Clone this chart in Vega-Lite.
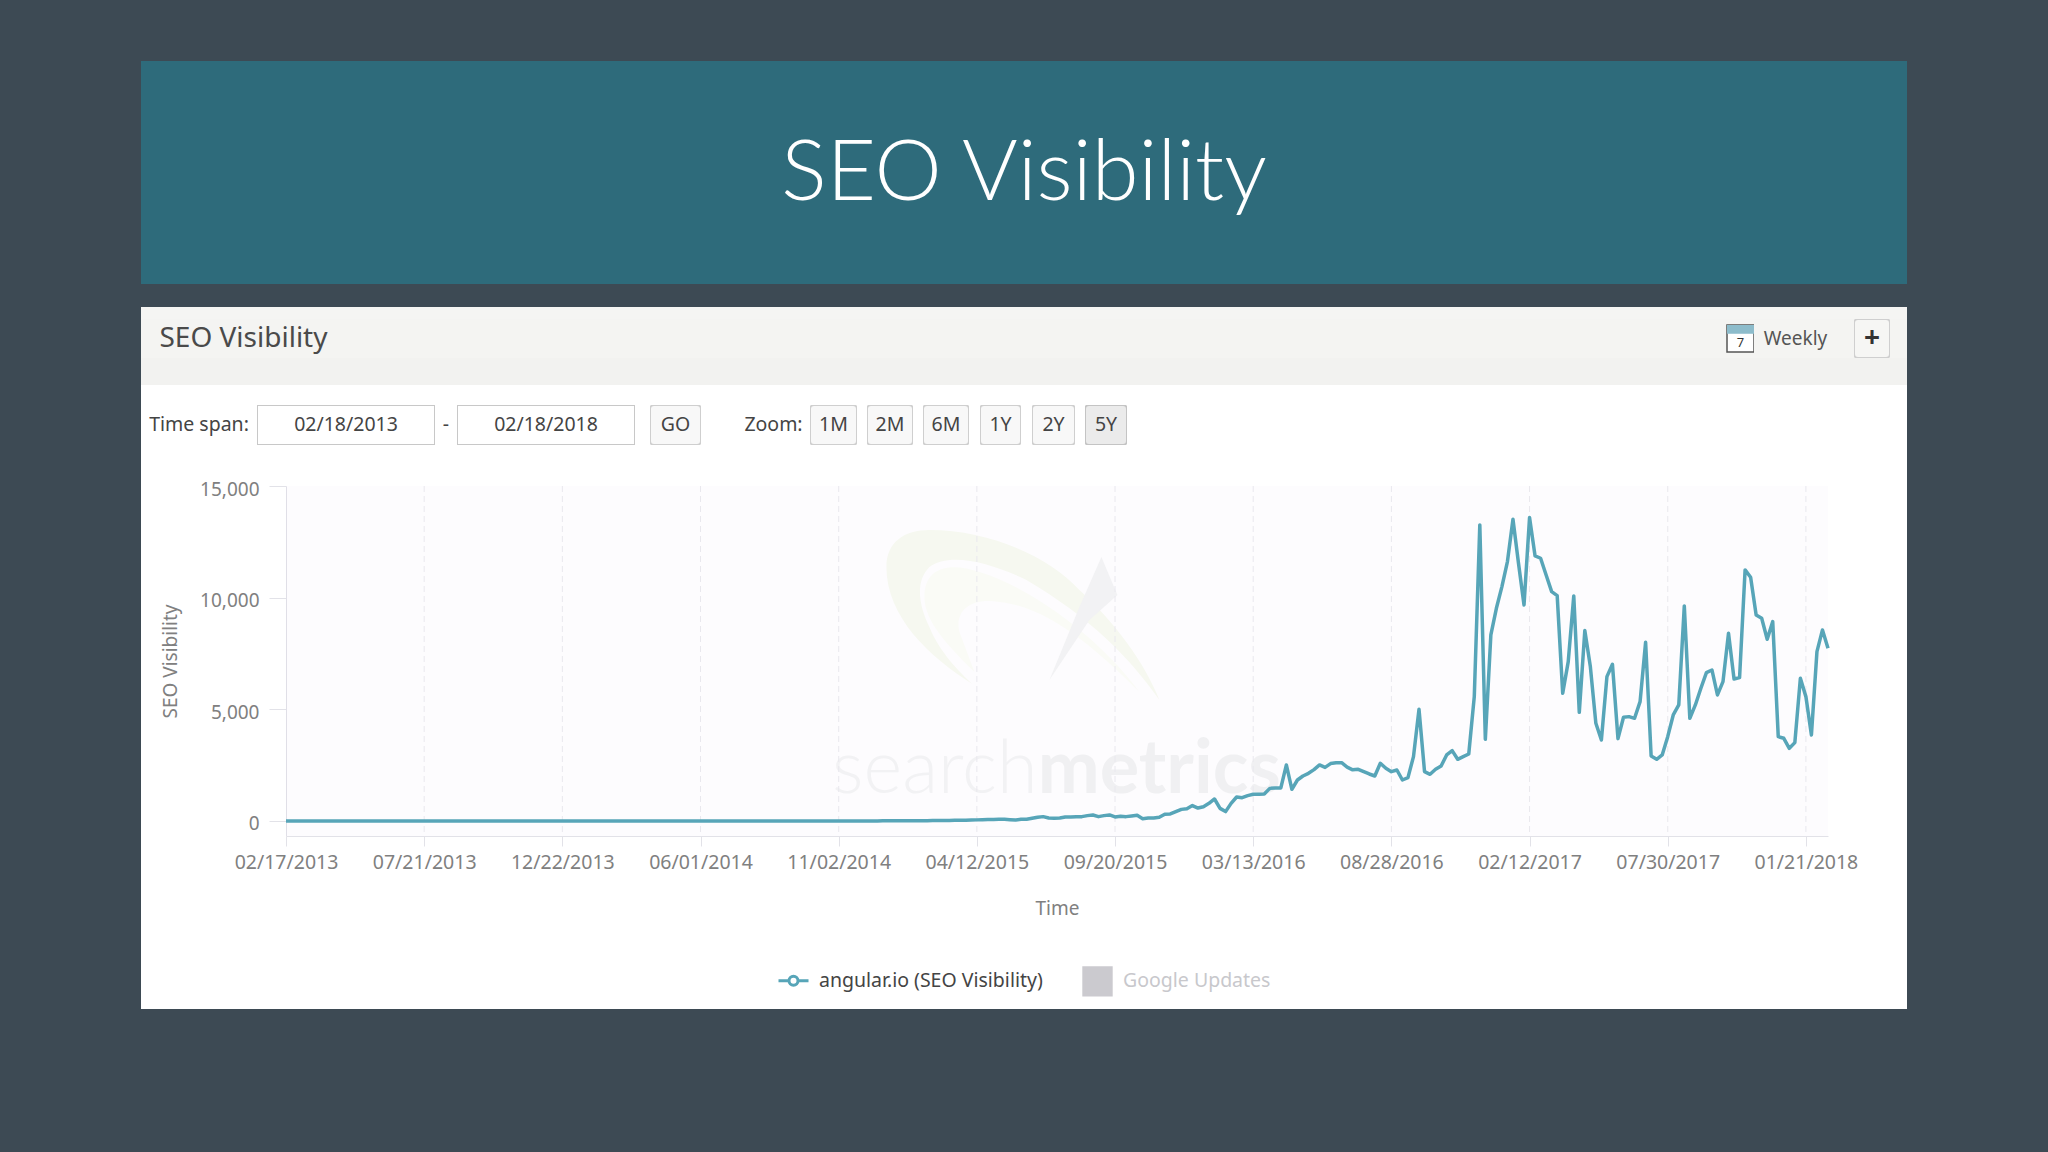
{
  "$schema": "https://vega.github.io/schema/vega-lite/v6.json",
  "description": "Slide with a Searchmetrics SEO Visibility panel for angular.io.",
  "background": "#3d4a54",
  "padding": {"left": 141, "top": 61, "right": 141, "bottom": 143},
  "data": {"values": [{}]},
  "spacing": 0,
  "vconcat": [
    {"width": 1766, "height": 223, "view": {"fill": "#2e6b7b"}, "mark": {"type": "text", "text": "SEO Visibility", "font": "Lato", "fontWeight": 300, "fontSize": 85, "color": "#ffffff", "dy": 1}},
    {"width": 1766, "height": 23, "mark": {"type": "rect", "fill": "#3d4a54"}},
    {"width": 1766, "height": 12, "mark": {"type": "rect", "fill": "#f5f5f3"}},
    {
      "spacing": 0,
      "bounds": "flush",
      "hconcat": [
        {"width": 17, "height": 39, "mark": {"type": "rect", "fill": "#f4f4f2"}},
        {"width": 171, "height": 39, "view": {"fill": "#f4f4f2"}, "mark": {"type": "text", "text": "SEO Visibility", "fontSize": 28, "color": "#4a4a4a"}},
        {"width": 1398, "height": 39, "mark": {"type": "rect", "fill": "#f4f4f2"}},
        {
          "width": 27,
          "height": 39,
          "view": {"fill": "#f4f4f2"},
          "layer": [
            {"mark": {"type": "point", "shape": "square", "size": 729, "filled": true, "opacity": 1, "fill": "#ffffff", "stroke": "#555555", "strokeWidth": 1.5}},
            {"mark": {"type": "point", "shape": "M-1,-1 H1 V-.35 H-1 Z", "size": 729, "filled": true, "opacity": 1, "fill": "#8dbccb"}},
            {"mark": {"type": "text", "text": "7", "fontSize": 13, "color": "#333333", "dy": 4}}
          ]
        },
        {"width": 9, "height": 39, "mark": {"type": "rect", "fill": "#f4f4f2"}},
        {"width": 65, "height": 39, "view": {"fill": "#f4f4f2"}, "mark": {"type": "text", "text": "Weekly", "fontSize": 19, "color": "#555555"}},
        {"width": 26, "height": 39, "mark": {"type": "rect", "fill": "#f4f4f2"}},
        {
          "width": 36,
          "height": 39,
          "view": {"fill": "#f4f4f2"},
          "layer": [
            {"mark": {"type": "rect", "clip": true, "fill": "#f6f6f4", "stroke": "#cfcfcf", "strokeWidth": 2, "cornerRadius": 4}},
            {"mark": {"type": "text", "text": "+", "fontSize": 28, "fontWeight": "bold", "color": "#333333"}}
          ]
        },
        {"width": 17, "height": 39, "mark": {"type": "rect", "fill": "#f4f4f2"}}
      ]
    },
    {"width": 1766, "height": 27, "mark": {"type": "rect", "fill": "#f2f2f0"}},
    {"width": 1766, "height": 20, "mark": {"type": "rect", "fill": "#ffffff"}},
    {
      "spacing": 0,
      "bounds": "flush",
      "hconcat": [
        {"width": 116, "height": 40, "view": {"fill": "#ffffff"}, "mark": {"type": "text", "text": "Time span:"}},
        {"width": 178, "height": 40, "view": {"fill": "#ffffff"}, "layer": [{"mark": {"type": "rect", "clip": true, "fill": "#ffffff", "stroke": "#c8c8c8", "strokeWidth": 2}}, {"mark": {"type": "text", "text": "02/18/2013"}}]},
        {"width": 22, "height": 40, "view": {"fill": "#ffffff"}, "mark": {"type": "text", "text": "-"}},
        {"width": 178, "height": 40, "view": {"fill": "#ffffff"}, "layer": [{"mark": {"type": "rect", "clip": true, "fill": "#ffffff", "stroke": "#c8c8c8", "strokeWidth": 2}}, {"mark": {"type": "text", "text": "02/18/2018"}}]},
        {"width": 15, "height": 40, "mark": {"type": "rect", "fill": "#ffffff"}},
        {"width": 51, "height": 40, "view": {"fill": "#ffffff"}, "layer": [{"mark": {"type": "rect", "clip": true, "fill": "#f8f8f8", "stroke": "#cfcfcf", "strokeWidth": 2, "cornerRadius": 4}}, {"mark": {"type": "text", "text": "GO"}}]},
        {"width": 39, "height": 40, "mark": {"type": "rect", "fill": "#ffffff"}},
        {"width": 67, "height": 40, "view": {"fill": "#ffffff"}, "mark": {"type": "text", "text": "Zoom:"}},
        {"width": 3, "height": 40, "mark": {"type": "rect", "fill": "#ffffff"}},
        {"width": 47, "height": 40, "view": {"fill": "#ffffff"}, "layer": [{"mark": {"type": "rect", "clip": true, "fill": "#f8f8f8", "stroke": "#cfcfcf", "strokeWidth": 2, "cornerRadius": 4}}, {"mark": {"type": "text", "text": "1M"}}]},
        {"width": 10, "height": 40, "mark": {"type": "rect", "fill": "#ffffff"}},
        {"width": 46, "height": 40, "view": {"fill": "#ffffff"}, "layer": [{"mark": {"type": "rect", "clip": true, "fill": "#f8f8f8", "stroke": "#cfcfcf", "strokeWidth": 2, "cornerRadius": 4}}, {"mark": {"type": "text", "text": "2M"}}]},
        {"width": 10, "height": 40, "mark": {"type": "rect", "fill": "#ffffff"}},
        {"width": 46, "height": 40, "view": {"fill": "#ffffff"}, "layer": [{"mark": {"type": "rect", "clip": true, "fill": "#f8f8f8", "stroke": "#cfcfcf", "strokeWidth": 2, "cornerRadius": 4}}, {"mark": {"type": "text", "text": "6M"}}]},
        {"width": 11, "height": 40, "mark": {"type": "rect", "fill": "#ffffff"}},
        {"width": 41, "height": 40, "view": {"fill": "#ffffff"}, "layer": [{"mark": {"type": "rect", "clip": true, "fill": "#f8f8f8", "stroke": "#cfcfcf", "strokeWidth": 2, "cornerRadius": 4}}, {"mark": {"type": "text", "text": "1Y"}}]},
        {"width": 11, "height": 40, "mark": {"type": "rect", "fill": "#ffffff"}},
        {"width": 43, "height": 40, "view": {"fill": "#ffffff"}, "layer": [{"mark": {"type": "rect", "clip": true, "fill": "#f8f8f8", "stroke": "#cfcfcf", "strokeWidth": 2, "cornerRadius": 4}}, {"mark": {"type": "text", "text": "2Y"}}]},
        {"width": 10, "height": 40, "mark": {"type": "rect", "fill": "#ffffff"}},
        {"width": 42, "height": 40, "view": {"fill": "#ffffff"}, "layer": [{"mark": {"type": "rect", "clip": true, "fill": "#ebebeb", "stroke": "#c4c4c4", "strokeWidth": 2, "cornerRadius": 4}}, {"mark": {"type": "text", "text": "5Y"}}]},
        {"width": 780, "height": 40, "mark": {"type": "rect", "fill": "#ffffff"}}
      ]
    },
    {
      "width": 1766,
      "height": 564,
      "view": {"fill": "#ffffff"},
      "layer": [
        {
          "mark": {"type": "rect", "fill": "#6a50b0", "opacity": 0.015},
          "encoding": {
            "x": {
              "datum": 0,
              "type": "quantitative",
              "scale": {"domain": [0, 279], "range": [145, 1687], "nice": false, "zero": false},
              "axis": {
                "title": "Time",
                "orient": "bottom",
                "offset": -173,
                "values": [0, 25, 50, 75, 100, 125, 150, 175, 200, 225, 250, 275],
                "labelExpr": "['02/17/2013','07/21/2013','12/22/2013','06/01/2014','11/02/2014','04/12/2015','09/20/2015','03/13/2016','08/28/2016','02/12/2017','07/30/2017','01/21/2018'][datum.value / 25]",
                "labelOverlap": false,
                "labelFlush": false,
                "grid": false,
                "domainColor": "#e2e2e8",
                "tickColor": "#e2e2e8",
                "tickSize": 10,
                "labelFontSize": 19.5,
                "labelColor": "#808080",
                "labelPadding": 7,
                "titleFontSize": 19,
                "titleFontWeight": "normal",
                "titleColor": "#808080",
                "titlePadding": 28
              }
            },
            "x2": {"datum": 279},
            "y": {
              "datum": 15000,
              "type": "quantitative",
              "scale": {"domain": [-672, 15000], "range": [391, 41], "nice": false, "zero": false},
              "axis": {
                "title": "SEO Visibility",
                "orient": "left",
                "offset": -145,
                "values": [0, 5000, 10000, 15000],
                "labelExpr": "format(datum.value, ',')",
                "labelOffset": 3,
                "grid": false,
                "domainColor": "#e2e2e8",
                "tickColor": "#e2e2e8",
                "tickSize": 17,
                "labelFontSize": 19,
                "labelColor": "#808080",
                "labelPadding": 10,
                "titleFontSize": 19,
                "titleFontWeight": "normal",
                "titleColor": "#808080",
                "titlePadding": 19
              }
            },
            "y2": {"datum": -672}
          }
        },
        {
          "mark": {"type": "point", "filled": true, "opacity": 1, "fill": "#f6f8f0", "size": 40000, "shape": "M-1.33,-.5 C-1.33,-.75 -1.15,-.87 -.9,-.87 C-.3,-.87 .3,-.6 .6,-.27 C.95,.05 1.25,.45 1.4,.83 C1.1,.4 .7,0 .07,-.37 C-.3,-.55 -.7,-.65 -.9,-.5 C-1.05,-.35 -1,-.1 -.9,.1 C-.8,.35 -.6,.55 -.47,.67 C-.9,.4 -1.33,0 -1.33,-.5 Z"},
          "encoding": {"x": {"datum": 132.7}, "y": {"datum": 9135}}
        },
        {
          "mark": {"type": "point", "filled": true, "opacity": 1, "fill": "#fafbf6", "size": 40000, "shape": "M-.95,-.2 C-.95,-.5 -.7,-.55 -.4,-.45 C.1,-.3 .8,.2 1.2,.75 C.8,.35 .3,-.1 -.2,-.15 C-.5,-.2 -.65,-.05 -.6,.15 L-.45,.55 C-.7,.3 -.95,.05 -.95,-.2 Z"},
          "encoding": {"x": {"datum": 132.7}, "y": {"datum": 9135}}
        },
        {
          "mark": {"type": "point", "filled": true, "opacity": 1, "fill": "#f2f2f4", "size": 40000, "shape": "M.82,-.6 L.98,-.22 L.7,.03 L.3,.63 L.6,-.1 Z"},
          "encoding": {"x": {"datum": 132.7}, "y": {"datum": 9135}}
        },
        {
          "mark": {"type": "text", "text": "search", "font": "Lato", "fontWeight": 300, "fontSize": 74, "align": "right", "baseline": "alphabetic", "color": "#f2f2f4"},
          "encoding": {"x": {"datum": 136}, "y": {"datum": 1254}}
        },
        {
          "mark": {"type": "text", "text": "metrics", "font": "Lato", "fontWeight": "bold", "fontSize": 74, "align": "left", "baseline": "alphabetic", "color": "#f0f0f2"},
          "encoding": {"x": {"datum": 136}, "y": {"datum": 1254}}
        },
        {
          "data": {"values": [{"point":25},{"point":50},{"point":75},{"point":100},{"point":125},{"point":150},{"point":175},{"point":200},{"point":225},{"point":250},{"point":275}]},
          "mark": {"type": "rule", "color": "#e9e8ee", "strokeWidth": 1, "strokeDash": [6, 4]},
          "encoding": {
            "x": {"field": "point", "type": "quantitative"},
            "y": {"datum": 15000},
            "y2": {"datum": -672}
          }
        },
        {
          "data": {
            "values": [
              {"point":0,"visibility":0},{"point":1,"visibility":0},{"point":2,"visibility":0},{"point":3,"visibility":0},{"point":4,"visibility":0},{"point":5,"visibility":0},{"point":6,"visibility":0},{"point":7,"visibility":0},{"point":8,"visibility":0},{"point":9,"visibility":0},
              {"point":10,"visibility":0},{"point":11,"visibility":0},{"point":12,"visibility":0},{"point":13,"visibility":0},{"point":14,"visibility":0},{"point":15,"visibility":0},{"point":16,"visibility":0},{"point":17,"visibility":0},{"point":18,"visibility":0},{"point":19,"visibility":0},
              {"point":20,"visibility":0},{"point":21,"visibility":0},{"point":22,"visibility":0},{"point":23,"visibility":0},{"point":24,"visibility":0},{"point":25,"visibility":0},{"point":26,"visibility":0},{"point":27,"visibility":0},{"point":28,"visibility":0},{"point":29,"visibility":0},
              {"point":30,"visibility":0},{"point":31,"visibility":0},{"point":32,"visibility":0},{"point":33,"visibility":0},{"point":34,"visibility":0},{"point":35,"visibility":0},{"point":36,"visibility":0},{"point":37,"visibility":0},{"point":38,"visibility":0},{"point":39,"visibility":0},
              {"point":40,"visibility":0},{"point":41,"visibility":0},{"point":42,"visibility":0},{"point":43,"visibility":0},{"point":44,"visibility":0},{"point":45,"visibility":0},{"point":46,"visibility":0},{"point":47,"visibility":0},{"point":48,"visibility":0},{"point":49,"visibility":0},
              {"point":50,"visibility":0},{"point":51,"visibility":0},{"point":52,"visibility":0},{"point":53,"visibility":0},{"point":54,"visibility":0},{"point":55,"visibility":0},{"point":56,"visibility":0},{"point":57,"visibility":0},{"point":58,"visibility":0},{"point":59,"visibility":0},
              {"point":60,"visibility":0},{"point":61,"visibility":0},{"point":62,"visibility":0},{"point":63,"visibility":0},{"point":64,"visibility":0},{"point":65,"visibility":0},{"point":66,"visibility":0},{"point":67,"visibility":0},{"point":68,"visibility":0},{"point":69,"visibility":0},
              {"point":70,"visibility":0},{"point":71,"visibility":0},{"point":72,"visibility":0},{"point":73,"visibility":0},{"point":74,"visibility":0},{"point":75,"visibility":0},{"point":76,"visibility":0},{"point":77,"visibility":0},{"point":78,"visibility":0},{"point":79,"visibility":0},
              {"point":80,"visibility":0},{"point":81,"visibility":0},{"point":82,"visibility":0},{"point":83,"visibility":0},{"point":84,"visibility":0},{"point":85,"visibility":0},{"point":86,"visibility":0},{"point":87,"visibility":0},{"point":88,"visibility":0},{"point":89,"visibility":0},
              {"point":90,"visibility":0},{"point":91,"visibility":0},{"point":92,"visibility":0},{"point":93,"visibility":0},{"point":94,"visibility":0},{"point":95,"visibility":0},{"point":96,"visibility":0},{"point":97,"visibility":0},{"point":98,"visibility":0},{"point":99,"visibility":0},
              {"point":100,"visibility":0},{"point":101,"visibility":5},{"point":102,"visibility":5},{"point":103,"visibility":5},{"point":104,"visibility":5},{"point":105,"visibility":5},{"point":106,"visibility":5},{"point":107,"visibility":5},{"point":108,"visibility":10},{"point":109,"visibility":10},
              {"point":110,"visibility":10},{"point":111,"visibility":10},{"point":112,"visibility":10},{"point":113,"visibility":15},{"point":114,"visibility":15},{"point":115,"visibility":15},{"point":116,"visibility":15},{"point":117,"visibility":20},{"point":118,"visibility":20},{"point":119,"visibility":25},
              {"point":120,"visibility":25},{"point":121,"visibility":30},{"point":122,"visibility":30},{"point":123,"visibility":35},{"point":124,"visibility":40},{"point":125,"visibility":50},{"point":126,"visibility":60},{"point":127,"visibility":65},{"point":128,"visibility":70},{"point":129,"visibility":75},
              {"point":130,"visibility":75},{"point":131,"visibility":60},{"point":132,"visibility":45},{"point":133,"visibility":75},{"point":134,"visibility":75},{"point":135,"visibility":120},{"point":136,"visibility":165},{"point":137,"visibility":195},{"point":138,"visibility":135},{"point":139,"visibility":120},
              {"point":140,"visibility":135},{"point":141,"visibility":180},{"point":142,"visibility":180},{"point":143,"visibility":195},{"point":144,"visibility":195},{"point":145,"visibility":240},{"point":146,"visibility":270},{"point":147,"visibility":195},{"point":148,"visibility":240},{"point":149,"visibility":270},
              {"point":150,"visibility":180},{"point":151,"visibility":210},{"point":152,"visibility":195},{"point":153,"visibility":225},{"point":154,"visibility":255},{"point":155,"visibility":105},{"point":156,"visibility":135},{"point":157,"visibility":135},{"point":158,"visibility":165},{"point":159,"visibility":300},
              {"point":160,"visibility":315},{"point":161,"visibility":420},{"point":162,"visibility":520},{"point":163,"visibility":550},{"point":164,"visibility":690},{"point":165,"visibility":580},{"point":166,"visibility":640},{"point":167,"visibility":790},{"point":168,"visibility":985},{"point":169,"visibility":565},
              {"point":170,"visibility":420},{"point":171,"visibility":790},{"point":172,"visibility":1075},{"point":173,"visibility":1045},{"point":174,"visibility":1135},{"point":175,"visibility":1195},{"point":176,"visibility":1195},{"point":177,"visibility":1210},{"point":178,"visibility":1460},{"point":179,"visibility":1480},
              {"point":180,"visibility":1480},{"point":181,"visibility":2510},{"point":182,"visibility":1420},{"point":183,"visibility":1835},{"point":184,"visibility":2015},{"point":185,"visibility":2135},{"point":186,"visibility":2300},{"point":187,"visibility":2510},{"point":188,"visibility":2400},{"point":189,"visibility":2570},
              {"point":190,"visibility":2610},{"point":191,"visibility":2610},{"point":192,"visibility":2410},{"point":193,"visibility":2290},{"point":194,"visibility":2315},{"point":195,"visibility":2210},{"point":196,"visibility":2105},{"point":197,"visibility":2015},{"point":198,"visibility":2583},{"point":199,"visibility":2359},
              {"point":200,"visibility":2210},{"point":201,"visibility":2284},{"point":202,"visibility":1836},{"point":203,"visibility":1941},{"point":204,"visibility":2881},{"point":205,"visibility":5002},{"point":206,"visibility":2210},{"point":207,"visibility":2090},{"point":208,"visibility":2314},{"point":209,"visibility":2463},
              {"point":210,"visibility":2956},{"point":211,"visibility":3150},{"point":212,"visibility":2762},{"point":213,"visibility":2881},{"point":214,"visibility":3001},{"point":215,"visibility":5569},{"point":216,"visibility":13258},{"point":217,"visibility":3658},{"point":218,"visibility":8331},{"point":219,"visibility":9525},
              {"point":220,"visibility":10496},{"point":221,"visibility":11616},{"point":222,"visibility":13512},{"point":223,"visibility":11541},{"point":224,"visibility":9675},{"point":225,"visibility":13586},{"point":226,"visibility":11869},{"point":227,"visibility":11765},{"point":228,"visibility":11018},{"point":229,"visibility":10272},
              {"point":230,"visibility":10093},{"point":231,"visibility":5718},{"point":232,"visibility":7137},{"point":233,"visibility":10078},{"point":234,"visibility":4867},{"point":235,"visibility":8525},{"point":236,"visibility":6913},{"point":237,"visibility":4374},{"point":238,"visibility":3628},{"point":239,"visibility":6465},
              {"point":240,"visibility":7017},{"point":241,"visibility":3688},{"point":242,"visibility":4643},{"point":243,"visibility":4673},{"point":244,"visibility":4598},{"point":245,"visibility":5345},{"point":246,"visibility":8002},{"point":247,"visibility":2911},{"point":248,"visibility":2762},{"point":249,"visibility":2956},
              {"point":250,"visibility":3777},{"point":251,"visibility":4748},{"point":252,"visibility":5196},{"point":253,"visibility":9630},{"point":254,"visibility":4598},{"point":255,"visibility":5196},{"point":256,"visibility":5942},{"point":257,"visibility":6644},{"point":258,"visibility":6763},{"point":259,"visibility":5644},
              {"point":260,"visibility":6241},{"point":261,"visibility":8406},{"point":262,"visibility":6360},{"point":263,"visibility":6420},{"point":264,"visibility":11242},{"point":265,"visibility":10914},{"point":266,"visibility":9227},{"point":267,"visibility":9077},{"point":268,"visibility":8137},{"point":269,"visibility":8928},
              {"point":270,"visibility":3777},{"point":271,"visibility":3703},{"point":272,"visibility":3255},{"point":273,"visibility":3509},{"point":274,"visibility":6390},{"point":275,"visibility":5569},{"point":276,"visibility":3852},{"point":277,"visibility":7584},{"point":278,"visibility":8555},{"point":279,"visibility":7734}
            ]
          },
          "mark": {"type": "line", "strokeWidth": 3.5, "strokeJoin": "round", "interpolate": "linear"},
          "encoding": {
            "x": {"field": "point", "type": "quantitative"},
            "y": {"field": "visibility", "type": "quantitative"},
            "color": {
              "datum": "angular.io (SEO Visibility)",
              "scale": {"domain": ["angular.io (SEO Visibility)", "Google Updates"], "range": ["#57a5b8", "#cbcacf"]},
              "legend": {
                "title": null,
                "orient": "none",
                "legendX": 636,
                "legendY": 903,
                "direction": "horizontal",
                "columns": 2,
                "columnPadding": 34,
                "symbolSize": 900,
                "labelOffset": 9,
                "labelFontSize": 19.5,
                "labelLimit": 400,
                "encode": {
                  "labels": {"update": {"fill": {"signal": "datum.value === 'Google Updates' ? '#c8c8cc' : '#444444'"}}},
                  "symbols": {"update": {
                    "shape": {"signal": "datum.value === 'Google Updates' ? 'square' : 'M-1,-1 L-1,-1 M1,1 L1,1 M-1,0 L-.32,0 M.32,0 L1,0 M-.3,0 A.3,.3 0 1 1 .3,0 A.3,.3 0 1 1 -.3,0 Z'"},
                    "size": {"signal": "datum.value === 'Google Updates' ? 750 : 900"},
                    "fill": {"signal": "datum.value === 'Google Updates' ? '#cbcacf' : '#ffffff'"},
                    "stroke": {"signal": "datum.value === 'Google Updates' ? '#cbcacf' : '#57a5b8'"},
                    "strokeWidth": {"value": 3},
                    "opacity": {"value": 1}
                  }}
                }
              }
            }
          }
        }
      ]
    }
  ],
  "config": {
    "view": {"stroke": null},
    "text": {"font": "Noto Sans", "fontSize": 19.5, "color": "#444444"},
    "axis": {"labelFont": "Noto Sans", "titleFont": "Noto Sans"},
    "legend": {"labelFont": "Noto Sans"}
  }
}
